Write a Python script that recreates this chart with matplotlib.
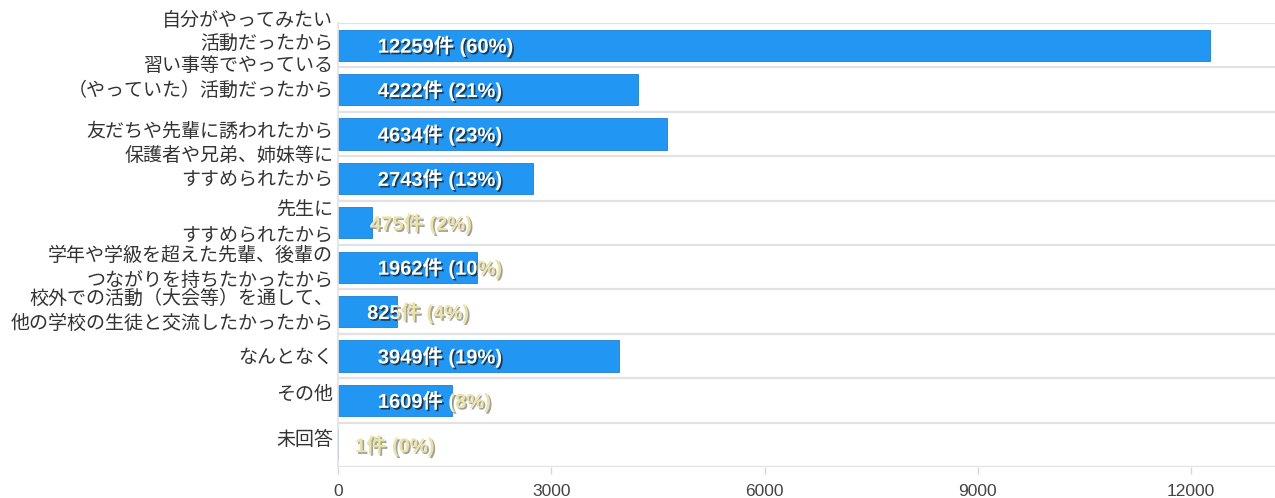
import matplotlib
matplotlib.use("Agg")
import matplotlib.pyplot as plt
import matplotlib.patheffects as pe
from matplotlib.patches import Rectangle
import numpy as np

# ── data ──────────────────────────────────────────────────────────
categories = [
    "自分がやってみたい\n活動だったから",
    "習い事等でやっている\n（やっていた）活動だったから",
    "友だちや先輩に誘われたから",
    "保護者や兄弟、姉妹等に\nすすめられたから",
    "先生に\nすすめられたから",
    "学年や学級を超えた先輩、後輩の\nつながりを持ちたかったから",
    "校外での活動（大会等）を通して、\n他の学校の生徒と交流したかったから",
    "なんとなく",
    "その他",
    "未回答",
]
counts = [12259, 4222, 4634, 2743, 475, 1962, 825, 3949, 1609, 1]
percents = [60, 21, 23, 13, 2, 10, 4, 19, 8, 0]
xticks = [0, 3000, 6000, 9000, 12000]

# ── style ─────────────────────────────────────────────────────────
BAR = "#2196f3"
GRID = "#e2e2e2"
CJK = ["Noto Sans CJK JP", "DejaVu Sans"]
NUM = ["Liberation Sans", "Noto Sans CJK JP"]
label_x = [560, 560, 560, 560, 450, 560, 410, 560, 560, 240]
label_dy = [0.29, 0.27, 0.05, 0.25, 0.0, -0.02, 0.02, -0.02, 0.13, 0.11]

fig = plt.figure(figsize=(12.75, 4.98), dpi=100)
ax = fig.add_axes([338 / 1275, 1 - 467 / 498, 937 / 1275, 444 / 498])

y = np.arange(len(categories))
bars = ax.barh(y, counts, height=0.7, color=BAR, edgecolor="#1c7fd0",
               linewidth=0.6, zorder=2)

ax.set_xlim(0, 13180)
ax.set_ylim(len(categories) - 0.5, -0.5)

# row separators
for b in np.arange(-0.5, len(categories), 1.0):
    ax.axhline(b, color=GRID, lw=1.6, zorder=1)

for side in ["top", "right", "bottom"]:
    ax.spines[side].set_visible(False)
ax.spines["left"].set_color(GRID)
ax.spines["left"].set_linewidth(1.2)

ax.set_yticks([])
ax.set_xticks(xticks)
ax.set_xticklabels([str(t) for t in xticks], family=NUM, fontsize=12.5,
                   color="#444444")
ax.tick_params(axis="x", length=5, width=1, color="#d6d6d6", pad=7)

# category labels
for i, (cat, dy) in enumerate(zip(categories, label_dy)):
    ax.text(-0.005, i - dy, cat, transform=ax.get_yaxis_transform(),
            ha="right", va="center", multialignment="right",
            family=CJK, fontsize=13.7, color="#333333", linespacing=1.22)

# ── value labels: white inside the bar, pale yellow outside ───────
inner_fx = [pe.withSimplePatchShadow(offset=(1.2, -1.2), shadow_rgbFace="#1a1a1a",
                                     alpha=0.75)]
outer_fx = [pe.withSimplePatchShadow(offset=(1.2, -1.2), shadow_rgbFace="#8a8a8a",
                                     alpha=0.8)]
for i, (c, p, lx) in enumerate(zip(counts, percents, label_x)):
    s = f"{c}件 ({p}%)"
    inside = Rectangle((0, i - 0.5), c, 1.0, transform=ax.transData)
    outside = Rectangle((c, i - 0.5), 20000, 1.0, transform=ax.transData)
    t1 = ax.text(lx, i + 0.02, s, ha="left", va="center", family=NUM,
                 fontsize=14.5, fontweight="bold", color="white",
                 path_effects=inner_fx, clip_on=True, zorder=4)
    t1.set_clip_path(inside)
    t2 = ax.text(lx, i + 0.02, s, ha="left", va="center", family=NUM,
                 fontsize=14.5, fontweight="bold", color="#ebe3a6",
                 path_effects=outer_fx, clip_on=True, zorder=4)
    t2.set_clip_path(outside)

fig.savefig("out.png", dpi=100)
plt.close(fig)
